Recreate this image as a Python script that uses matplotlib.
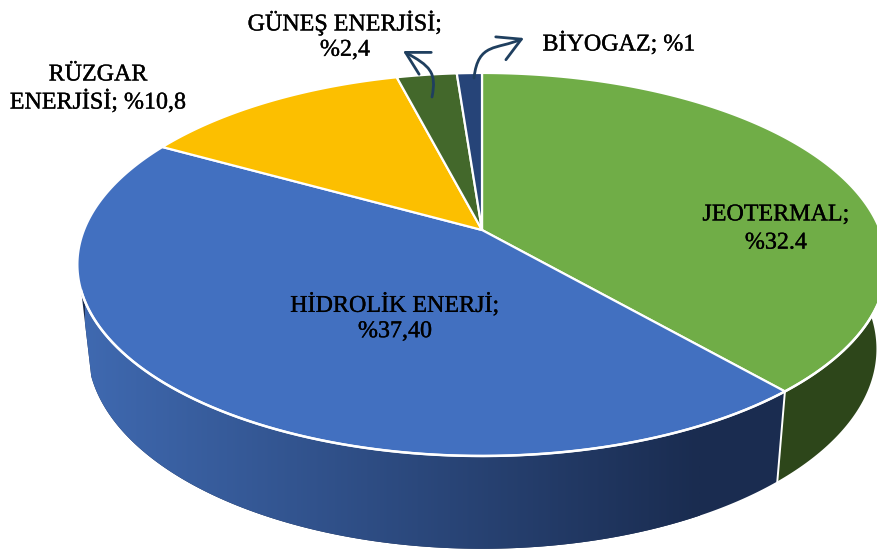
import numpy as np
import matplotlib
matplotlib.use("Agg")
import matplotlib.pyplot as plt
import matplotlib.patheffects as pe
from matplotlib.patches import FancyArrowPatch, Polygon
from matplotlib.path import Path

plt.rcParams["font.family"] = ["Liberation Serif", "DejaVu Serif"]

# slices, clockwise from 12 o'clock
categories = ["JEOTERMAL", "HİDROLİK ENERJİ", "RÜZGAR ENERJİSİ", "GÜNEŞ ENERJİSİ", "BİYOGAZ"]
values = [32.4, 37.4, 10.8, 2.4, 1.0]
value_labels = ["%32.4", "%37,40", "%10,8", "%2,4", "%1"]
colors = ["#70ad47", "#4270c0", "#fcbf00", "#43682b", "#264478"]

# perspective of the tilted disc, in pixels
CX = 482
K = 0.18
TOP_A, TOP_B, TOP_C = 230, -143.9, 398
BOT_A, BOT_B, BOT_C = 313, -137, 388


def top_xy(theta):
    w = 1 + K * np.cos(theta)
    return np.c_[CX + TOP_C * np.sin(theta) / w, (TOP_A + TOP_B * np.cos(theta)) / w]


def bottom_xy(theta):
    w = 1 + K * np.cos(theta)
    return np.c_[CX + BOT_C * np.sin(theta) / w, (BOT_A + BOT_B * np.cos(theta)) / w]


fig = plt.figure(figsize=(8.77, 5.51), dpi=100)
ax = fig.add_axes([0, 0, 1, 1])
ax.axis("off")

edges = np.concatenate([[0], np.cumsum(values)]) / sum(values) * 2 * np.pi
split = edges[1]

# side wall, green part then blue part
th = np.linspace(np.radians(60), split, 120)
outline = np.vstack([top_xy(th), bottom_xy(th)[::-1]])
ax.add_patch(Polygon(outline, closed=True, fc="#2d461a", ec="none", zorder=1))

# blue wall: left to right gradient clipped to the wall shape
th = np.linspace(split, np.radians(252), 400)
wall = Polygon(np.vstack([top_xy(th), bottom_xy(th)[::-1]]), closed=True, fc="none", ec="none",
               transform=ax.transData)
ax.add_patch(wall)
ramp = np.linspace(0, 1, 256)[None, :, None]
left = np.array([0x3f, 0x69, 0xb0]) / 255
right = np.array([0x1a, 0x2c, 0x50]) / 255
gradient = left + (right - left) * ramp
img = ax.imshow(gradient, extent=(85, 700, 551, 0), aspect="auto", zorder=2, interpolation="bilinear")
img.set_clip_path(wall)
# past the end of the ramp the wall keeps the dark colour
dark = Polygon(np.vstack([top_xy(th), bottom_xy(th)[::-1]]), closed=True, fc="#1a2c50", ec="none", zorder=1.5)
ax.add_patch(dark)
ax.set_xlim(0, 877)
ax.set_ylim(551, 0)

# white seam between the two walls
seam = np.vstack([top_xy(np.array([split])), bottom_xy(np.array([split]))])
ax.plot(seam[:, 0], seam[:, 1], color="white", lw=1.4, zorder=3)

# top face
for i, color in enumerate(colors):
    th = np.linspace(edges[i], edges[i + 1], 200)
    pts = np.vstack([[[CX, TOP_A]], top_xy(th)])
    ax.add_patch(Polygon(pts, closed=True, fc=color, ec="white", lw=1.6,
                         joinstyle="miter", zorder=4))

# white rim only shows where the wall is behind it
th = np.linspace(np.radians(110), np.radians(252), 300)
rim = top_xy(th)
ax.plot(rim[:, 0], rim[:, 1], color="white", lw=1.8, zorder=5)

# labels
stroke = [pe.withStroke(linewidth=0.25, foreground="black")]
label_style = dict(ha="center", va="center", fontsize=17.3, color="black", zorder=7, path_effects=stroke)
ax.text(776, 229, f"{categories[0]};\n{value_labels[0]}", linespacing=1.45, **label_style)
ax.text(395, 318, f"{categories[1]};\n{value_labels[1]}", linespacing=1.27, **label_style)
ax.text(98, 89, f"RÜZGAR\nENERJİSİ; {value_labels[2]}", linespacing=1.27, **label_style)
ax.text(345, 36, f"{categories[3]};\n{value_labels[3]}", linespacing=1.27, **label_style)
ax.text(619, 44, f"{categories[4]}; {value_labels[4]}", **label_style)

# curved arrows from the two small slices
arrow_color = "#1f3f5f"
arrows = [
    [(432, 97), (437, 72), (430, 66), (403, 51)],
    [(474, 78), (478, 42), (497, 50), (524, 38)],
]
for pts in arrows:
    path = Path(pts, [Path.MOVETO, Path.CURVE4, Path.CURVE4, Path.CURVE4])
    ax.add_patch(FancyArrowPatch(path=path, arrowstyle="->,head_length=0.9,head_width=0.5",
                                 mutation_scale=18, color=arrow_color, lw=2, zorder=6))

fig.savefig("out.png", dpi=100)
